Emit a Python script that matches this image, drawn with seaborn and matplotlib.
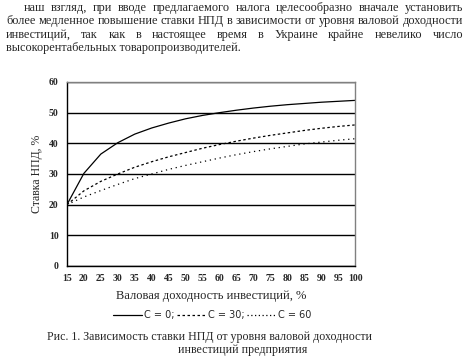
import pandas as pd
import matplotlib
matplotlib.use("Agg")
import matplotlib.pyplot as plt
import seaborn as sns

# Data
income = [15, 20, 25, 30, 35, 40, 45, 50, 55, 60, 65, 70, 75, 80, 85, 90, 95, 100]
rate_c0 = [20, 30.2, 36.5, 40.2, 43.0, 45.0, 46.6, 48.0, 49.1, 50.0, 50.8, 51.5, 52.1, 52.6, 53.0, 53.4, 53.7, 54.0]
rate_c30 = [20, 24.5, 27.6, 30.0, 32.2, 34.0, 35.6, 37.0, 38.4, 39.6, 40.7, 41.7, 42.6, 43.4, 44.2, 44.9, 45.5, 46.0]
rate_c60 = [20, 22.5, 24.6, 26.6, 28.5, 30.0, 31.5, 32.8, 34.0, 35.2, 36.3, 37.3, 38.2, 39.0, 39.8, 40.4, 41.0, 41.5]
series_labels = ["C = 0;", "C = 30;", "C = 60"]
x_ticks = list(range(15, 101, 5))
y_ticks = [0, 10, 20, 30, 40, 50, 60]

paragraph = [
    "наш взгляд, при вводе предлагаемого налога целесообразно вначале установить",
    "более медленное повышение ставки НПД в зависимости от уровня валовой доходности",
    "инвестиций, так как в настоящее время в Украине крайне невелико число",
    "высокорентабельных товаропроизводителей.",
]
caption = ["Рис. 1. Зависимость ставки НПД от уровня валовой доходности",
           "инвестиций предприятия"]

df = pd.concat([
    pd.DataFrame({"x": income, "y": vals, "C": lab})
    for vals, lab in zip([rate_c0, rate_c30, rate_c60], series_labels)
])

sns.set_style("white")
plt.rcParams["font.family"] = ["Liberation Serif", "DejaVu Serif"]

fig = plt.figure(figsize=(4.68, 3.58), dpi=100)
ax = fig.add_axes([0.143, 0.257, 0.616, 0.514])

sns.lineplot(data=df, x="x", y="y", style="C", color="black", linewidth=0.9,
             dashes={"C = 0;": "", "C = 30;": (2, 2), "C = 60": (1, 3)},
             ax=ax, legend=False)

ax.set_xlim(15, 100)
ax.set_ylim(0, 60)
ax.set_xticks(x_ticks)
ax.set_yticks(y_ticks)
ax.tick_params(axis="both", labelsize=7, width=0.8, pad=3, direction="out", color="black")
ax.tick_params(axis="x", length=0, pad=6)
ax.tick_params(axis="y", length=3)
for lab in ax.get_xticklabels() + ax.get_yticklabels():
    lab.set_fontweight("bold")
ax.yaxis.grid(True, color="black", linewidth=1.0)
ax.set_axisbelow(True)
for s in ["top", "right"]:
    ax.spines[s].set_color("#808080")
    ax.spines[s].set_linewidth(1.0)
for s in ["left", "bottom"]:
    ax.spines[s].set_color("black")
    ax.spines[s].set_linewidth(1.0)

ax.set_xlabel("Валовая доходность инвестиций, %", fontsize=9, labelpad=5)
ax.set_ylabel("Ставка НПД, %", fontsize=8.5, labelpad=4)

# legend below the axes
handles = [plt.Line2D([], [], color="black", linewidth=0.9, linestyle=ls)
           for ls in ["-", (0, (2, 2)), (0, (1, 2))]]
fig.legend(handles, series_labels, loc="center", bbox_to_anchor=(0.453, 0.12),
           ncol=3, frameon=False, handlelength=3.0,
           handletextpad=0.15, columnspacing=0.3,
           prop={"family": "DejaVu Sans", "size": 7})

# paragraph text on top, justified
renderer = fig.canvas.get_renderer()
fs = 8.8
line_y = [0.978, 0.94, 0.902, 0.865]
for i, (line, y) in enumerate(zip(paragraph, line_y)):
    x0 = 24 / 468 if i == 0 else 6 / 468
    x1 = 463 / 468
    if i == len(paragraph) - 1:
        fig.text(x0, y, line, fontsize=fs, va="center", ha="left")
        continue
    words = line.split()
    texts = [fig.text(0, y, w, fontsize=fs, va="center", ha="left") for w in words]
    widths = [t.get_window_extent(renderer).width / fig.bbox.width for t in texts]
    gap = (x1 - x0 - sum(widths)) / (len(words) - 1)
    x = x0
    for t, w in zip(texts, widths):
        t.set_x(x)
        x += w + gap

fig.text(47 / 468, 1 - 337 / 358, caption[0], fontsize=8.6, va="center", ha="left")
fig.text(243 / 468, 1 - 350 / 358, caption[1], fontsize=8.6, va="center", ha="center")

fig.savefig("out.png", dpi=100)
